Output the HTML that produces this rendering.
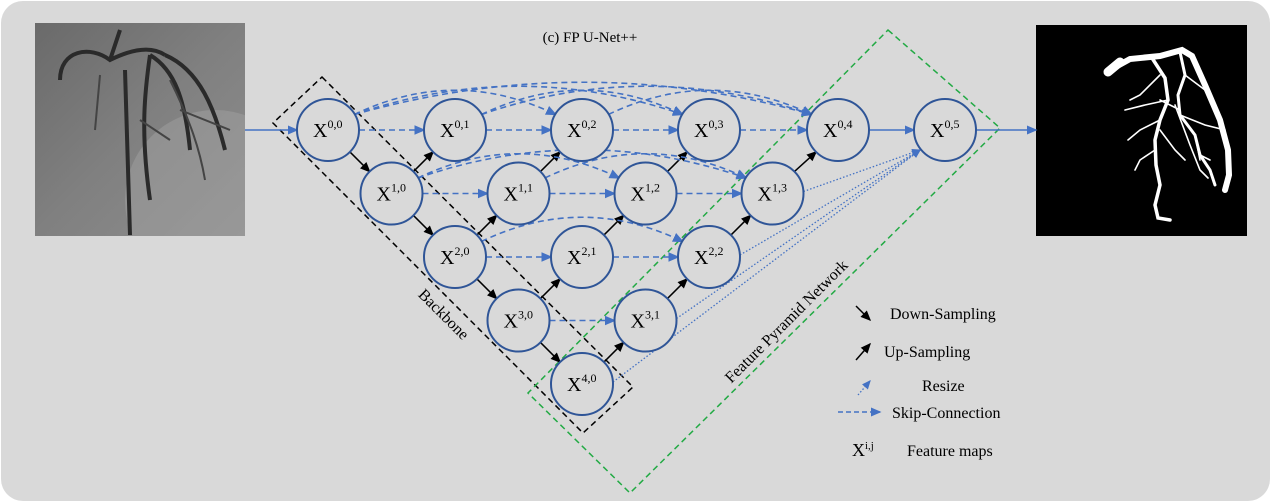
<!DOCTYPE html>
<html><head><meta charset="utf-8"><style>
html,body{margin:0;padding:0;background:#fff;}
svg{display:block;}
text{font-family:"Liberation Serif",serif;}
</style></head><body>
<svg id="fig" width="1271" height="502" viewBox="0 0 1271 502">
<defs>
<marker id="ab" markerWidth="8" markerHeight="8" refX="6" refY="3" orient="auto"><path d="M0,0 L7,3 L0,6 z" fill="#4472c4"/></marker>
<marker id="ak" markerWidth="8" markerHeight="8" refX="6" refY="3" orient="auto"><path d="M0,0 L7,3 L0,6 z" fill="#000"/></marker>
<linearGradient id="lg" x1="0" y1="0" x2="1" y2="1"><stop offset="0" stop-color="#6a6a6a"/><stop offset="0.5" stop-color="#808080"/><stop offset="1" stop-color="#8e8e8e"/></linearGradient>
<clipPath id="lc"><rect x="35" y="23" width="210" height="213"/></clipPath>
</defs>
<rect x="1" y="1" width="1269" height="500" rx="22" fill="#d9d9d9"/>
<text x="590" y="42" font-size="15" text-anchor="middle">(c) FP U-Net++</text>

<g clip-path="url(#lc)">
<rect x="35" y="23" width="210" height="213" fill="url(#lg)"/>
<circle cx="215" cy="200" r="90" fill="#a5a5a5" opacity="0.45"/>
<path d="M60,80 C60,50 90,45 110,60 C130,50 150,45 165,55 M110,60 L120,30 M150,55 C175,70 185,100 190,150 M165,55 C200,70 215,110 225,150 M150,55 C145,90 140,130 150,200 M125,70 L130,235" stroke="#2a2a2a" stroke-width="4" fill="none"/>
<path d="M100,75 L95,130 M170,80 C190,120 200,150 205,180 M140,120 L170,140 M180,110 L230,130" stroke="#444" stroke-width="2" fill="none"/>
</g>

<g>
<rect x="1036" y="25" width="211" height="211" fill="#000"/>
<g stroke="#fff" fill="none" stroke-linecap="round">
<path d="M1110,70 L1130,59 L1160,56 L1182,50 L1192,56 L1205,85 L1220,120 L1228,150 L1229,175 L1225,190" stroke-width="6"/>
<path d="M1108,72 L1120,62" stroke-width="9"/>
<path d="M1152,58 L1165,78 L1168,100 L1160,120 L1155,140 L1156,165 L1160,185 L1155,205 L1158,218 L1170,220" stroke-width="3.5"/>
<path d="M1180,52 L1185,75 L1178,95 L1180,115 L1195,135 L1200,155 L1210,170 L1215,185" stroke-width="3"/>
<path d="M1168,100 L1145,105 L1125,110 M1160,75 L1140,95 L1130,100 M1160,120 L1140,130 L1128,140 M1160,100 L1180,110 M1185,75 L1205,90 L1215,110 M1180,115 L1205,125 L1225,130 M1195,135 L1200,160 M1160,130 L1175,150 L1185,160 M1155,150 L1140,160 L1135,170 M1200,155 L1210,160 M1175,105 L1190,145 L1200,170 L1208,178" stroke-width="1.6"/>
</g>
</g>

<g id="bb">
<polygon points="322,77 633,387 583,433 273,123" fill="none" stroke="#000" stroke-width="1.5" stroke-dasharray="6,4"/>
</g>
<polygon points="888,30 1000,128 630,493 528,393" fill="none" stroke="#22aa44" stroke-width="1.5" stroke-dasharray="6,4"/>
<text transform="translate(440,318) rotate(45)" font-size="16" text-anchor="middle">Backbone</text>
<text transform="translate(790,325) rotate(-45)" font-size="16" text-anchor="middle">Feature Pyramid Network</text>

<g id="edges"></g>
<g id="nodes"></g>

<g font-size="16">
<line x1="856" y1="306" x2="870" y2="320" stroke="#000" stroke-width="1.5" marker-end="url(#ak)"/>
<text x="890" y="319">Down-Sampling</text>
<line x1="856" y1="360" x2="870" y2="344" stroke="#000" stroke-width="1.5" marker-end="url(#ak)"/>
<text x="884" y="357">Up-Sampling</text>
<line x1="858" y1="395" x2="870" y2="381" stroke="#4472c4" stroke-width="1.3" stroke-dasharray="1.5,2" marker-end="url(#ab)"/>
<text x="922" y="391">Resize</text>
<line x1="838" y1="412" x2="880" y2="412" stroke="#4472c4" stroke-width="1.5" stroke-dasharray="5,3" marker-end="url(#ab)"/>
<text x="892" y="418">Skip-Connection</text>
<text x="852" y="456" font-size="18">X<tspan font-size="11" dy="-7">i,j</tspan></text>
<text x="907" y="456">Feature maps</text>
</g>
</svg>
<script>
const levels=[0,1,2,3,4];
const colsPerLevel=[6,4,3,2,1];
const NS='http://www.w3.org/2000/svg';
const R=31,x0=328,y0=130,dx=127,dy=63.5;
function pos(i,j){ if(i===0&&j===5) return [945,130]; if(i===0&&j===4) return [838,130]; return [x0+dx*j+dx/2*i, y0+dy*i]; }
const E=document.getElementById('edges'),N=document.getElementById('nodes');
function mk(t,a,p){const e=document.createElementNS(NS,t);for(const k in a)e.setAttribute(k,a[k]);(p||E).appendChild(e);return e;}
function line(x1,y1,x2,y2,st,name){const e=mk('line',Object.assign({x1,y1,x2,y2},st));

}
const blueD={stroke:'#4472c4','stroke-width':1.6,'stroke-dasharray':'6,4',fill:'none','marker-end':'url(#ab)'};
const blk={stroke:'#000','stroke-width':1.5,'marker-end':'url(#ak)'};
const k=Math.SQRT1_2;
line(245,130,x0-R,130,{stroke:'#4472c4','stroke-width':1.5,'marker-end':'url(#ab)'},'input-arrow');
line(945+R,130,1036,130,{stroke:'#4472c4','stroke-width':1.5,'marker-end':'url(#ab)'},'output-arrow');
line(838+R,130,945-R,130,{stroke:'#4472c4','stroke-width':1.5,'marker-end':'url(#ab)'},'x04-to-x05-arrow');
for(let i=0;i<4;i++){const [a,b]=pos(i,0),[c,d]=pos(i+1,0);line(a+R*k,b+R*k,c-R*k,d-R*k,blk,'down-arrow');}
levels.forEach(i=>{if(i===0)return;for(let j=0;j<colsPerLevel[i];j++){if(i+j>4)continue;const [a,b]=pos(i,j),[c,d]=pos(i-1,j+1);line(a+R*k,b-R*k,c-R*k,d+R*k,blk,'up-arrow');}});
levels.forEach(i=>{const n=Math.min(colsPerLevel[i],5-i);for(let j=0;j<n;j++)for(let m=j+1;m<n;m++){
 const [a,b]=pos(i,j),[c,d]=pos(i,m);
 if(m===j+1){line(a+R,b,c-R,d,blueD,'skip-connection');}
 else{const h=18+(m-j)*8;const p=mk('path',Object.assign({d:`M${a+R*0.85},${b-R*0.5} Q${(a+c)/2},${b-h-30} ${c-R*0.85},${d-R*0.5}`},blueD));
 
 }}});
[[1,3],[2,2],[3,1],[4,0]].forEach(([i,j])=>{const [a,b]=pos(i,j);const e=mk('line',{x1:a+R,y1:b-2,x2:920,y2:150,stroke:'#4472c4','stroke-width':1.3,'stroke-dasharray':'1.5,2','marker-end':'url(#ab)'});

});
levels.forEach(i=>{const n=i===0?6:5-i;for(let j=0;j<n;j++){const [a,b]=pos(i,j);
 const g=mk('g',{},N);
 
 
 mk('circle',{cx:a,cy:b,r:R,fill:'#d9d9d9',stroke:'#2f5597','stroke-width':2},g);
 const t=mk('text',{x:a-15,y:b+7,'font-size':20},g);
 t.innerHTML='X<tspan font-size="12" dy="-9">'+i+','+j+'</tspan>';}});
</script>
</body></html>
